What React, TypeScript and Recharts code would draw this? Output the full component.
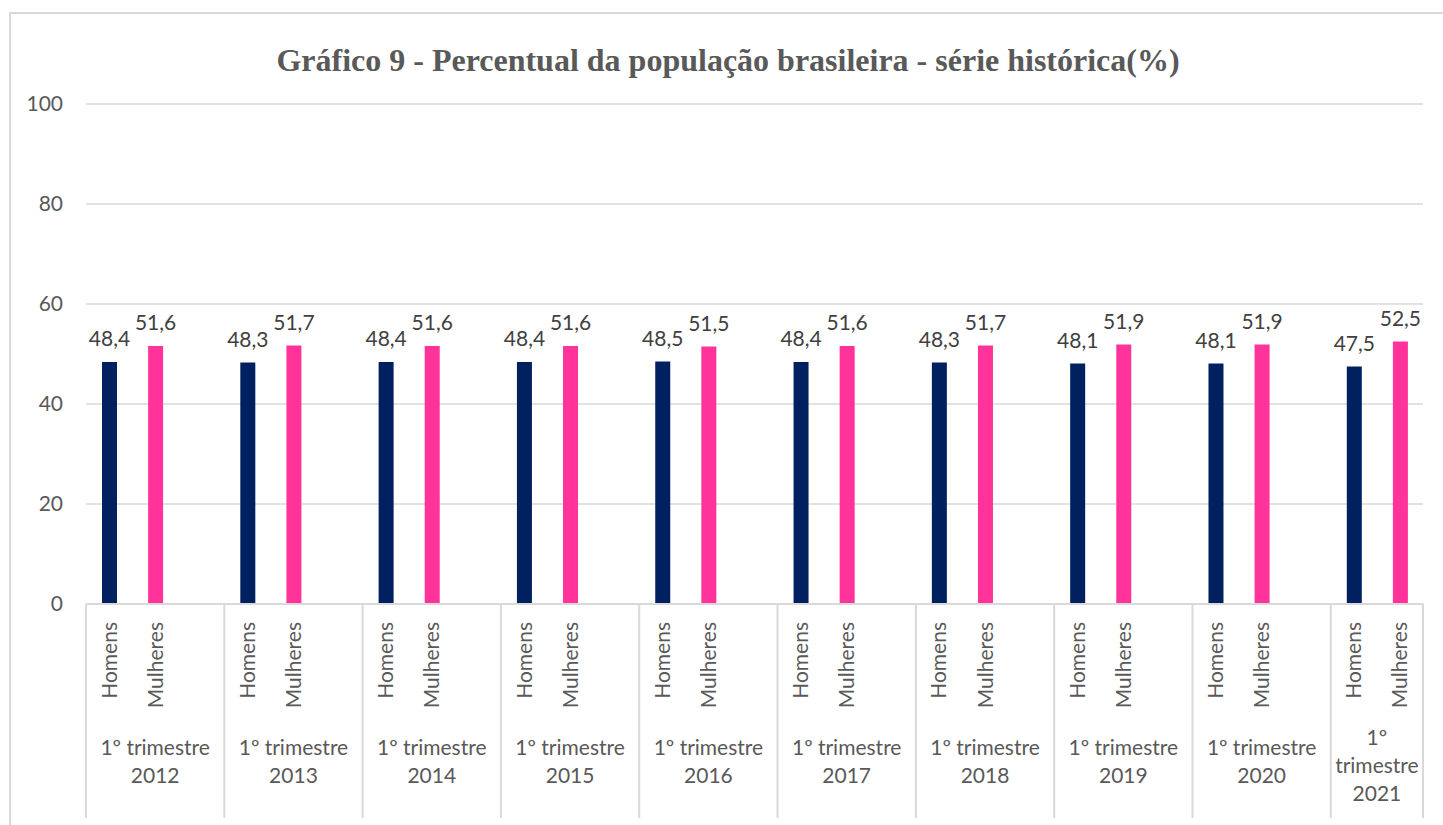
import { BarChart, Bar, XAxis, YAxis, CartesianGrid, Cell, LabelList } from 'recharts';

const YEARS = ['2012', '2013', '2014', '2015', '2016', '2017', '2018', '2019', '2020', '2021'];
const HOMENS = [48.4, 48.3, 48.4, 48.4, 48.5, 48.4, 48.3, 48.1, 48.1, 47.5];
const MULHERES = [51.6, 51.7, 51.6, 51.6, 51.5, 51.6, 51.7, 51.9, 51.9, 52.5];
const SUB_LABELS = ['Homens', 'Mulheres'];
const Y_TICKS = [0, 20, 40, 60, 80, 100];

const NAVY = '#002060';
const PINK = '#FF3399';
const AXIS_TEXT = '#595959';
const GRID = '#d9d9d9';
const FONT = 'Lato, "Open Sans", sans-serif';

const W = 1443;
const H = 825;
const PLOT_LEFT = 86;
const PLOT_RIGHT = 1423;
const PLOT_TOP = 104;
const PLOT_BOTTOM = 604;

// Excel sheet had an empty spacer row after each year except the last one
const rows: { sub: string; value: number | null; year: number }[] = [];
YEARS.forEach((_, i) => {
  rows.push({ sub: SUB_LABELS[0], value: HOMENS[i], year: i });
  rows.push({ sub: SUB_LABELS[1], value: MULHERES[i], year: i });
  if (i < YEARS.length - 1) rows.push({ sub: '', value: null, year: i });
});

const BAND = (PLOT_RIGHT - PLOT_LEFT) / rows.length;

const groupLines = (i: number) =>
  i === YEARS.length - 1 ? ['1º', 'trimestre', YEARS[i]] : ['1º trimestre', YEARS[i]];

const fmt = (v: any) => (v == null ? '' : Number(v).toFixed(1).replace('.', ','));

function CategoryTick(props: any) {
  const { x, y, payload } = props;
  const index: number = payload.index;
  const row = rows[index];
  if (!row) return null;
  const pos = index % 3;
  const isLast = row.year === YEARS.length - 1;
  const sepBottom = y + 214;
  const out: any[] = [];

  if (row.sub) {
    out.push(
      <text
        key="sub"
        x={x}
        y={y + 18}
        transform={`rotate(-90, ${x}, ${y + 18})`}
        textAnchor="end"
        dy="0.36em"
        fill={AXIS_TEXT}
        fontSize={21}
        fontFamily={FONT}
      >
        {row.sub}
      </text>
    );
  }

  if (pos === 0) {
    const left = x - BAND / 2;
    out.push(<line key="sep" x1={left} x2={left} y1={y} y2={sepBottom} stroke={GRID} strokeWidth={2} />);
    const lines = groupLines(row.year);
    const cx = isLast ? left + BAND : left + BAND * 1.5;
    const startY = isLast ? y + 140.5 : y + 150.5;
    lines.forEach((ln, k) => {
      out.push(
        <text
          key={`g${k}`}
          x={cx}
          y={startY + k * 28}
          textAnchor="middle"
          fill={AXIS_TEXT}
          fontSize={21}
          fontFamily={FONT}
        >
          {ln}
        </text>
      );
    });
  }

  if (index === rows.length - 1) {
    const right = x + BAND / 2;
    out.push(<line key="end" x1={right} x2={right} y1={y} y2={sepBottom} stroke={GRID} strokeWidth={2} />);
  }

  return <g>{out}</g>;
}

export default function App() {
  return (
    <div style={{ position: 'absolute', left: 0, top: 0, width: W, height: H, background: '#fff', overflow: 'hidden' }}>
      <BarChart
        width={W}
        height={H}
        data={rows}
        margin={{ top: PLOT_TOP, right: W - PLOT_RIGHT, left: 10, bottom: 0 }}
      >
        <CartesianGrid vertical={false} stroke={GRID} strokeWidth={1.5} />
        <XAxis
          dataKey="sub"
          interval={0}
          height={H - PLOT_BOTTOM}
          tickSize={0}
          tickMargin={0}
          tickLine={false}
          axisLine={{ stroke: GRID, strokeWidth: 2 }}
          tick={<CategoryTick />}
        />
        <YAxis
          width={PLOT_LEFT - 10}
          domain={[0, 100]}
          ticks={Y_TICKS}
          axisLine={false}
          tickLine={false}
          tickSize={0}
          tickMargin={23}
          tick={{ fill: AXIS_TEXT, fontSize: 21, fontFamily: FONT }}
        />
        <Bar dataKey="value" barSize={15} isAnimationActive={false}>
          {rows.map((r, i) => (
            <Cell key={i} fill={r.sub === SUB_LABELS[0] ? NAVY : PINK} />
          ))}
          <LabelList
            dataKey="value"
            position="top"
            offset={16}
            formatter={fmt}
            fill="#404040"
            fontSize={21}
            fontFamily={FONT}
          />
        </Bar>
      </BarChart>
      <svg
        width={W}
        height={H}
        style={{ position: 'absolute', left: 0, top: 0, pointerEvents: 'none' }}
      >
        <path d={`M10 ${H} V13 H${W}`} fill="none" stroke={GRID} strokeWidth={2} />
        <text
          x={728}
          y={71}
          textAnchor="middle"
          fill={AXIS_TEXT}
          fontSize={32}
          fontWeight="bold"
          fontFamily='"Liberation Serif", "Times New Roman", serif'
        >
          Gráfico 9 - Percentual da população brasileira - série histórica(%)
        </text>
      </svg>
    </div>
  );
}
